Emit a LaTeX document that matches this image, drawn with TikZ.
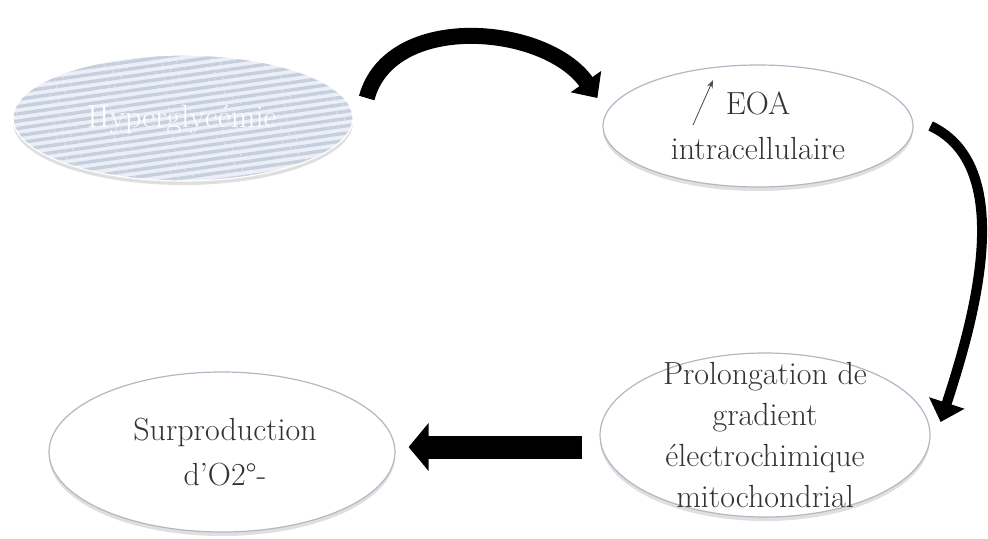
\documentclass[tikz,border=0pt]{standalone}
\usepackage{fontspec}
\usetikzlibrary{shapes.geometric,arrows.meta,patterns.meta,shadows}
\definecolor{stripe}{RGB}{196,208,220}
\definecolor{lilac}{RGB}{238,238,248}
\definecolor{rim}{RGB}{175,184,196}
\tikzset{every picture/.style = {x=0.5pt, y=0.5pt}}
\tikzset{bulle/.style = {shape=ellipse, draw=rim, line width=0.6pt, fill=white, inner sep=0pt,
    drop shadow={opacity=0.25, shadow xshift=0pt, shadow yshift=-2pt}}}
\tikzset{etiq/.style = {align=center, font=\fontsize{16}{20.5}\selectfont, text=black!80}}
\tikzset{fleche/.style = {line width=8pt, -{Triangle[width=18pt, length=10pt]}}}

\begin{document}
\begin{tikzpicture}
  \useasboundingbox (0, 0) rectangle (988, 538);
  % ellipses
  \node(hyper)[bulle, draw=white, minimum width=170pt, minimum height=63pt,
    preaction={fill=lilac}, pattern color=stripe,
    pattern={Lines[angle=8, distance=3.6pt, line width=1.7pt]}] at (183, 420) {};
  \node(eoa)[bulle, minimum width=155pt, minimum height=61pt] at (758, 412) {};
  \node(prol)[bulle, minimum width=165pt, minimum height=82pt] at (765, 103) {};
  \node(sur)[bulle, minimum width=173pt, minimum height=80pt] at (222, 86) {};
  % texts
  \node(hypert)[etiq, text=white] at (182, 418) {Hyperglycémie};
  \node(eoat)[etiq] at (758, 412) {EOA\\[2pt]intracellulaire};
  \node(prolt)[etiq] at (765, 103)
    {Prolongation de\\gradient\\électrochimique\\mitochondrial};
  \node(surt)[etiq] at (225, 86) {Surproduction\\[2pt]d’O2°-};
  \coordinate (up1) at (693, 413);
  \coordinate (up2) at (713, 458);
  \draw[thin, black!70, -{Stealth[length=4pt, width=3pt]}] (up1) -- (up2);
  % arrows
  \draw[fleche] ([xshift=6pt, yshift=10pt]hyper.east)
    to[out=75, in=125] ([xshift=-2.5pt, yshift=14pt]eoa.west);
  \draw[fleche, line width=5pt] ([xshift=8.5pt]eoa.east)
    to[out=-25, in=72, looseness=0.85] ([xshift=5pt, yshift=6.5pt]prol.east);
  \draw[line width=11.5pt, -{Triangle[width=23.5pt, length=10pt]}]
    ([xshift=-8.5pt, yshift=-6pt]prol.west) -- ([xshift=6.5pt, yshift=2.5pt]sur.east);
\end{tikzpicture}
\end{document}
